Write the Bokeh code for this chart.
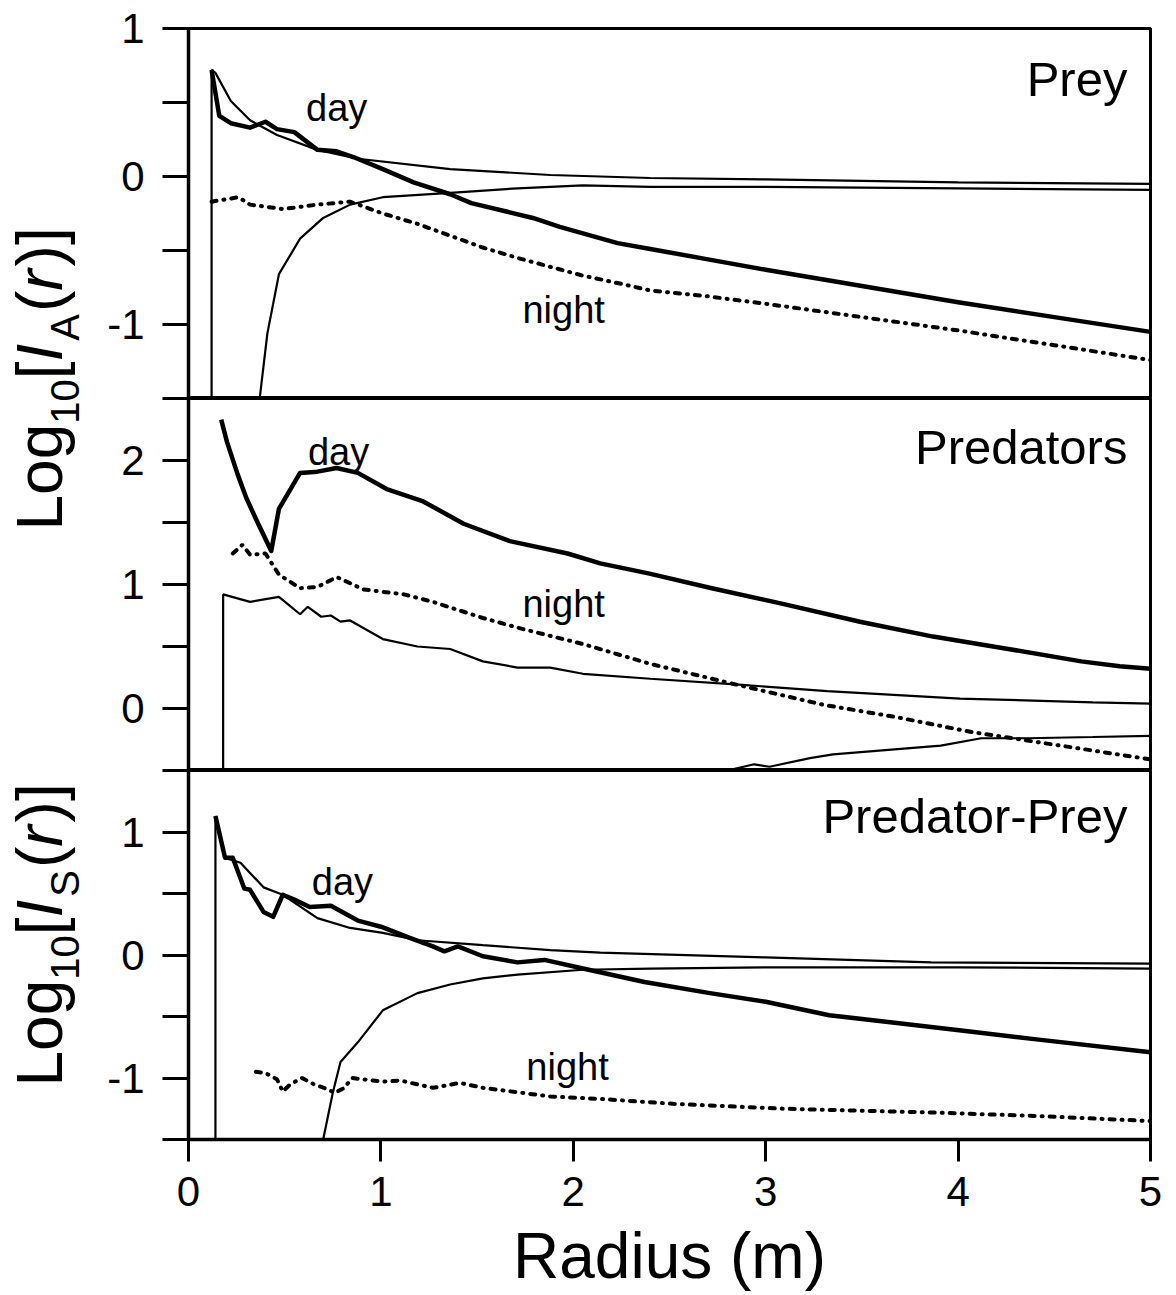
from math import pi
from bokeh.plotting import figure
from bokeh.layouts import row, column
from bokeh.models import Range1d, FixedTicker, CustomJSTickFormatter
from bokeh.core.properties import value
from bokeh.embed import file_html
from bokeh.resources import INLINE

FONT = "Liberation Sans"

# ---------------- data ----------------
x_ticks = [0, 1, 2, 3, 4, 5]

# Panel 1: Prey
prey_day_x = [0.12, 0.16, 0.22, 0.32, 0.40, 0.46, 0.55, 0.67, 0.77, 0.86, 1.01, 1.17, 1.36, 1.47, 1.79, 1.93, 2.23, 2.40, 2.70, 3.00, 3.50, 4.00, 4.50, 5.00]
prey_day_y = [0.72, 0.41, 0.36, 0.33, 0.37, 0.32, 0.30, 0.18, 0.17, 0.13, 0.05, -0.04, -0.12, -0.18, -0.28, -0.34, -0.45, -0.49, -0.56, -0.63, -0.74, -0.85, -0.95, -1.05]
prey_night_x = [0.12, 0.26, 0.32, 0.49, 0.67, 0.84, 1.01, 1.19, 1.36, 1.53, 1.71, 1.88, 2.05, 2.23, 2.40, 2.70, 3.00, 3.50, 4.00, 4.50, 5.00]
prey_night_y = [-0.17, -0.14, -0.19, -0.22, -0.19, -0.17, -0.25, -0.32, -0.40, -0.48, -0.55, -0.61, -0.67, -0.72, -0.77, -0.81, -0.86, -0.95, -1.04, -1.14, -1.24]
prey_hi_x = [0.12, 0.12, 0.14, 0.22, 0.32, 0.46, 0.67, 0.88, 1.36, 1.88, 2.40, 3.00, 4.00, 5.00]
prey_hi_y = [-1.5, 0.72, 0.70, 0.51, 0.38, 0.28, 0.18, 0.12, 0.05, 0.01, -0.01, -0.02, -0.04, -0.05]
prey_lo_x = [0.37, 0.41, 0.47, 0.58, 0.70, 0.84, 1.01, 1.36, 1.71, 2.05, 2.40, 3.00, 4.00, 5.00]
prey_lo_y = [-1.5, -1.06, -0.66, -0.42, -0.28, -0.19, -0.14, -0.11, -0.08, -0.06, -0.07, -0.07, -0.08, -0.09]

# Panel 2: Predators
pred_day_x = [0.17, 0.20, 0.255, 0.30, 0.35, 0.43, 0.47, 0.58, 0.67, 0.77, 0.88, 1.03, 1.22, 1.43, 1.67, 1.97, 2.14, 2.39, 2.72, 3.10, 3.49, 3.87, 4.26, 4.64, 4.84, 5.00]
pred_day_y = [2.33, 2.15, 1.89, 1.70, 1.53, 1.27, 1.61, 1.90, 1.91, 1.94, 1.90, 1.77, 1.67, 1.49, 1.35, 1.25, 1.17, 1.09, 0.97, 0.84, 0.70, 0.58, 0.48, 0.38, 0.34, 0.32]
pred_night_x = [0.23, 0.28, 0.32, 0.40, 0.47, 0.58, 0.67, 0.77, 0.91, 1.12, 1.27, 1.53, 1.74, 2.05, 2.40, 2.80, 3.30, 3.68, 4.07, 4.45, 5.00]
pred_night_y = [1.25, 1.32, 1.24, 1.25, 1.08, 0.97, 0.98, 1.06, 0.96, 0.92, 0.86, 0.73, 0.64, 0.52, 0.36, 0.21, 0.03, -0.07, -0.19, -0.28, -0.41]
pred_hi_x = [0.18, 0.18, 0.32, 0.47, 0.58, 0.62, 0.69, 0.74, 0.79, 0.84, 1.01, 1.19, 1.36, 1.53, 1.71, 1.88, 2.05, 2.40, 2.88, 3.32, 4.01, 4.70, 5.00]
pred_hi_y = [-0.5, 0.92, 0.86, 0.90, 0.76, 0.82, 0.74, 0.75, 0.70, 0.71, 0.56, 0.50, 0.48, 0.38, 0.33, 0.33, 0.28, 0.24, 0.19, 0.14, 0.08, 0.05, 0.04]
pred_lo_x = [2.80, 2.94, 3.02, 3.23, 3.35, 3.91, 4.12, 4.36, 4.70, 5.00]
pred_lo_y = [-0.5, -0.45, -0.47, -0.40, -0.37, -0.30, -0.24, -0.24, -0.23, -0.22]

# Panel 3: Predator-Prey
pp_day_x = [0.14, 0.19, 0.23, 0.29, 0.32, 0.39, 0.44, 0.49, 0.55, 0.63, 0.74, 0.88, 1.00, 1.15, 1.27, 1.33, 1.40, 1.53, 1.71, 1.85, 2.05, 2.37, 2.71, 3.00, 3.33, 3.67, 4.05, 4.43, 5.00]
pp_day_y = [1.13, 0.79, 0.79, 0.54, 0.53, 0.35, 0.31, 0.49, 0.45, 0.39, 0.40, 0.28, 0.23, 0.14, 0.07, 0.03, 0.07, -0.01, -0.06, -0.04, -0.11, -0.22, -0.31, -0.38, -0.49, -0.55, -0.62, -0.69, -0.79]
pp_night_x = [0.35, 0.40, 0.46, 0.49, 0.53, 0.59, 0.65, 0.72, 0.76, 0.81, 0.85, 1.01, 1.10, 1.27, 1.41, 1.53, 1.88, 2.14, 2.52, 3.10, 3.86, 4.43, 5.00]
pp_night_y = [-0.95, -0.96, -1.01, -1.11, -1.05, -1.00, -1.05, -1.09, -1.12, -1.08, -1.00, -1.03, -1.02, -1.08, -1.04, -1.08, -1.15, -1.17, -1.21, -1.25, -1.28, -1.31, -1.35]
pp_hi_x = [0.14, 0.14, 0.19, 0.27, 0.39, 0.49, 0.67, 0.84, 1.01, 1.19, 1.53, 1.88, 2.14, 3.00, 3.86, 5.00]
pp_hi_y = [-1.5, 1.13, 0.79, 0.75, 0.55, 0.49, 0.30, 0.22, 0.18, 0.12, 0.08, 0.04, 0.02, -0.02, -0.06, -0.07]
pp_lo_x = [0.70, 0.75, 0.79, 0.88, 1.01, 1.19, 1.36, 1.53, 1.71, 2.05, 2.40, 3.00, 4.00, 5.00]
pp_lo_y = [-1.5, -1.12, -0.87, -0.71, -0.45, -0.31, -0.24, -0.19, -0.16, -0.12, -0.11, -0.10, -0.10, -0.11]

panel_titles = ["Prey", "Predators", "Predator-Prey"]

# ---------------- layout ----------------
W_LAB = 95
W_PANEL = 1176 - W_LAB
xr = Range1d(0, 5)
plain_fmt = CustomJSTickFormatter(code="return String(tick);")


def make_panel(yr, major, minor, height, top, bottom, show_x):
    p = figure(width=W_PANEL, height=height, x_range=xr, y_range=Range1d(*yr),
               output_backend="svg", toolbar_location=None, tools="",
               min_border_left=93, min_border_right=26,
               min_border_top=top, min_border_bottom=bottom,
               x_axis_location="below" if show_x else None)
    p.xgrid.visible = False
    p.ygrid.visible = False
    p.outline_line_color = "black"
    p.outline_line_width = 3
    p.background_fill_color = "white"
    p.border_fill_color = "white"
    ax = p.yaxis[0]
    ax.ticker = FixedTicker(ticks=major, minor_ticks=minor)
    ax.formatter = plain_fmt
    ax.axis_line_width = 3.5
    ax.axis_line_color = "black"
    ax.major_tick_out = 26
    ax.major_tick_in = 0
    ax.minor_tick_out = 26
    ax.minor_tick_in = 0
    ax.major_tick_line_width = 3
    ax.minor_tick_line_width = 3
    ax.major_tick_line_color = "black"
    ax.minor_tick_line_color = "black"
    ax.major_label_text_font = FONT
    ax.major_label_text_font_size = "42px"
    ax.major_label_standoff = 18
    ax.major_label_text_color = "black"
    if show_x:
        xa = p.xaxis[0]
        xa.ticker = FixedTicker(ticks=x_ticks, minor_ticks=[])
        xa.formatter = plain_fmt
        xa.axis_line_width = 3.5
        xa.axis_line_color = "black"
        xa.major_tick_out = 22
        xa.major_tick_in = 0
        xa.major_tick_line_width = 3
        xa.major_tick_line_color = "black"
        xa.minor_tick_line_color = None
        xa.major_label_text_font = FONT
        xa.major_label_text_font_size = "42px"
        xa.major_label_text_color = "black"
        xa.major_label_standoff = 15
        xa.axis_label = "Radius (m)"
        xa.axis_label_text_font = FONT
        xa.axis_label_text_font_size = "64px"
        xa.axis_label_text_font_style = "normal"
        xa.axis_label_text_color = "black"
        xa.axis_label_standoff = 11
    return p


def draw(p, day_x, day_y, night_x, night_y, hi_x, hi_y, lo_x, lo_y):
    p.line(hi_x, hi_y, line_color="black", line_width=2.2)
    p.line(lo_x, lo_y, line_color="black", line_width=2.2)
    p.line(night_x, night_y, line_color="black", line_width=4,
           line_dash="5 7 1 7", line_cap="round")
    p.line(day_x, day_y, line_color="black", line_width=4.5, line_join="round")


def txt(p, x, y, s, size, align="center"):
    p.text(x=[x], y=[y], text=[s], text_font=value(FONT), text_font_size=size,
           text_align=align, text_baseline="middle", text_color="black")


p1 = make_panel((-1.5, 1), [-1, 0, 1], [-1.5, -0.5, 0.5], 398, 28, 0, False)
p2 = make_panel((-0.5, 2.5), [0, 1, 2], [-0.5, 0.5, 1.5, 2.5], 372, 0, 0, False)
p3 = make_panel((-1.5, 1.5), [-1, 0, 1], [-1.5, -0.5, 0.5, 1.5], 524, 0, 154, True)

draw(p1, prey_day_x, prey_day_y, prey_night_x, prey_night_y, prey_hi_x, prey_hi_y, prey_lo_x, prey_lo_y)
draw(p2, pred_day_x, pred_day_y, pred_night_x, pred_night_y, pred_hi_x, pred_hi_y, pred_lo_x, pred_lo_y)
draw(p3, pp_day_x, pp_day_y, pp_night_x, pp_night_y, pp_hi_x, pp_hi_y, pp_lo_x, pp_lo_y)

txt(p1, 0.77, 0.46, "day", "38px")
txt(p1, 1.95, -0.90, "night", "38px")
txt(p2, 0.78, 2.07, "day", "38px")
txt(p2, 1.95, 0.84, "night", "38px")
txt(p3, 0.80, 0.59, "day", "38px")
txt(p3, 1.97, -0.91, "night", "38px")

txt(p1, 4.88, 0.66, panel_titles[0], "49px", "right")
txt(p2, 4.88, 2.11, panel_titles[1], "49px", "right")
txt(p3, 4.88, 1.13, panel_titles[2], "49px", "right")

# ---------------- y-axis titles (rotated, with sub-scripts) ----------------
lab = figure(width=W_LAB, height=1294, x_range=Range1d(0, W_LAB), y_range=Range1d(1294, 0),
             output_backend="svg", toolbar_location=None, tools="", min_border=0,
             x_axis_location=None, y_axis_location=None)
lab.outline_line_color = None
lab.xgrid.visible = False
lab.ygrid.visible = False

WIDTHS = {"Log": 1.668, "10": 1.112, "[": 0.278, "I": 0.278, "A": 0.667, "S": 0.667,
          "(": 0.333, "r": 0.333, ")]": 0.611}


def ylabel(y_bottom, sub):
    # (text, size, style, centre-x of the glyph band, extra gap after)
    pieces = [("Log", 64, "normal", 39, 0), ("10", 40, "normal", 64, 0), ("[", 64, "normal", 39, 0),
              ("I", 64, "italic", 39, 3), (sub, 40, "normal", 64, 2), ("(", 64, "normal", 39, 0),
              ("r", 64, "italic", 39, 3), (")]", 64, "normal", 39, 0)]
    y = y_bottom
    for s, size, style, xc, extra in pieces:
        lab.text(x=[xc], y=[y], text=[s], angle=pi / 2, text_align="left",
                 text_baseline="middle", text_font=value(FONT),
                 text_font_size=f"{size}px", text_font_style=style, text_color="black")
        y -= WIDTHS[s] * size + extra


ylabel(530, "A")
ylabel(1086, "S")

layout = row(lab, column(p1, p2, p3, spacing=0), spacing=0)
open("out.html", "w").write(file_html(layout, INLINE))
